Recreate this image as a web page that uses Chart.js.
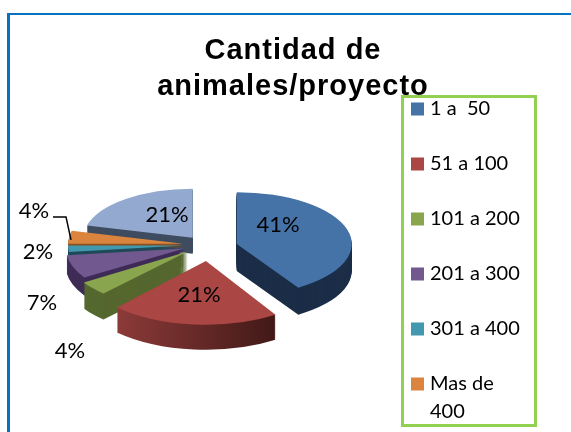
<!DOCTYPE html>
<html>
<head>
<meta charset="utf-8">
<style>
    html, body { margin: 0; padding: 0; background: #fff; overflow: hidden; }
    #frame { position: absolute; left: 7px; top: 13px; right: 0; bottom: 0; border-left: 3px solid #0a70c0; border-top: 2px solid #0a70c0; }
    #chart { position: absolute; left: 0; top: 0; }
</style>
<script src="https://cdn.jsdelivr.net/npm/chart.js@4"></script>
</head>
<body>
<div id="frame"></div>
<canvas id="chart" width="571" height="432"></canvas>
<script>
const categories = ["1 a  50", "51 a 100", "101 a 200", "201 a 300", "301 a 400", "Mas de\n400"];
const percentages = [41, 21, 4, 7, 2, 4, 21];
const titleLines = ["Cantidad de", "animales/proyecto"];

const topColors = ["#4573a7", "#aa4643", "#89a54e", "#71588f", "#4198af", "#db843d", "#93a9cf"];
const sideColors = ["#1b2d47", null, "#55682f", "#3e2c56", "#1f4a58", "#8a5020", "#3f4c60"];

// fake 3D: squash, explode and extrude each slice
const pieShiftX = -88;
const squash = [0.45, 0.49, 0.47, 0.46, 0.45, 0.45, 0.45];
const explode = [32, 33, 25, 22, 22, 22, 20];
const grow = [1.0, 1.13, 1.07, 1.03, 1.0, 1.0, 0.95];
const nudge = [[1, 3], [4, 0], [2, -1], [0, 0], [0, 0], [0, 0], [0, 0]];
const depth = [27, 25, 26, 18, 7, 4, 16];
const labelShift = [[73, -20], [-6, 50], [-135, 106], [-163, 58], [-167, 7], [-171, -34], [-38, -30]];

function sliceTransform(ctx, arc, i, drop) {
    const mid = (arc.startAngle + arc.endAngle) / 2;
    ctx.translate(
        arc.x + pieShiftX + nudge[i][0] + Math.cos(mid) * explode[i],
        arc.y + nudge[i][1] + Math.sin(mid) * explode[i] * squash[i] + drop
    );
    ctx.scale(grow[i], grow[i] * squash[i]);
    ctx.translate(-arc.x, -arc.y);
}

function paintSlice(ctx, arc, i, drop, fill) {
    const base = arc.options;
    arc.options = Object.create(base, { backgroundColor: { value: fill } });
    ctx.save();
    sliceTransform(ctx, arc, i, drop);
    arc.draw(ctx);
    ctx.restore();
    arc.options = base;
}

const pie3d = {
    id: "pie3d",
    beforeDraw(chart) {
        // the title in the picture is spaced out
        chart.ctx.letterSpacing = "1px";
    },
    beforeDatasetDraw(chart) {
        const ctx = chart.ctx;
        ctx.letterSpacing = "0px";
        const arcs = chart.getDatasetMeta(0).data;
        const order = arcs.map((a, i) => i).sort((a, b) => {
            const ma = (arcs[a].startAngle + arcs[a].endAngle) / 2;
            const mb = (arcs[b].startAngle + arcs[b].endAngle) / 2;
            return Math.sin(ma) - Math.sin(mb);
        });
        order.forEach(i => {
            const arc = arcs[i];
            let side = sideColors[i];
            if (!side) {
                side = ctx.createLinearGradient(arc.x - 85, 0, arc.x + 70, 0);
                side.addColorStop(0, "#8f3c3a");
                side.addColorStop(1, "#3d1715");
            }
            for (let d = depth[i]; d > 0; d--) {
                paintSlice(ctx, arc, i, d, side);
            }
            paintSlice(ctx, arc, i, 0, topColors[i]);
        });
        return false;
    },
    afterDatasetsDraw(chart) {
        const ctx = chart.ctx;
        const arc = chart.getDatasetMeta(0).data[0];
        const cx = arc.x + pieShiftX;
        const cy = arc.y;
        ctx.save();
        ctx.fillStyle = "#000";
        ctx.font = "22px Lato";
        ctx.textAlign = "center";
        ctx.textBaseline = "middle";
        percentages.forEach((v, i) => {
            ctx.fillText(v + "%", cx + labelShift[i][0], cy + labelShift[i][1]);
        });
        // leader line of the orange slice
        ctx.strokeStyle = "#000";
        ctx.lineWidth = 1.5;
        ctx.beginPath();
        ctx.moveTo(cx - 152, cy - 28);
        ctx.lineTo(cx - 139, cy - 28);
        ctx.lineTo(cx - 134, cy - 5);
        ctx.stroke();
        ctx.restore();
    },
    afterDraw(chart) {
        const ctx = chart.ctx;
        ctx.save();
        ctx.letterSpacing = "0px";
        ctx.fillStyle = "#fff";
        ctx.strokeStyle = "#92d050";
        ctx.lineWidth = 3;
        ctx.fillRect(402, 96, 134, 330);
        ctx.strokeRect(402.5, 96.5, 133, 329);
        ctx.font = "20px Lato";
        ctx.textBaseline = "middle";
        categories.forEach((name, i) => {
            const y = 109 + i * 55;
            ctx.fillStyle = topColors[i];
            ctx.fillRect(411, y - 6.5, 13, 13);
            ctx.fillStyle = "#000";
            name.split("\n").forEach((line, n) => {
                ctx.fillText(line, 430, y + n * 28);
            });
        });
        ctx.restore();
    }
};

new Chart(document.getElementById("chart"), {
    type: "pie",
    data: {
        labels: categories,
        datasets: [{ data: percentages, backgroundColor: topColors, borderWidth: 0 }]
    },
    options: {
        responsive: false,
        animation: false,
        radius: 115,
        layout: { padding: { left: 15, right: 0, top: 0, bottom: 47 } },
        plugins: {
            legend: { display: false },
            tooltip: { enabled: false },
            title: {
                display: true,
                text: titleLines,
                color: "#000",
                font: { family: "Liberation Sans", size: 29, weight: "bold", lineHeight: 1.24 },
                padding: { top: 33, bottom: 0 }
            }
        }
    },
    plugins: [pie3d]
});
</script>
</body>
</html>
